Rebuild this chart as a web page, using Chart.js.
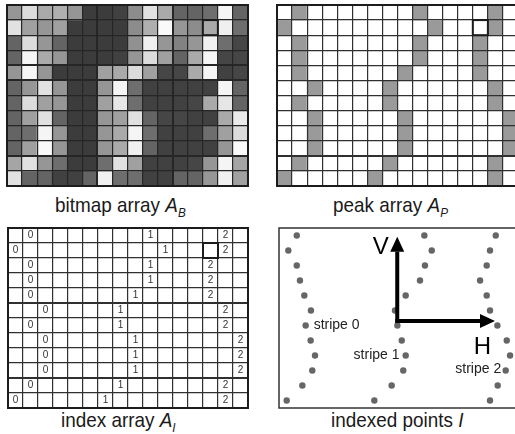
<!DOCTYPE html>
<html lang="en">
<head>
<meta charset="UTF-8">
<title>Stripe indexing</title>
<script src="https://cdn.jsdelivr.net/npm/chart.js"></script>
<style>
    html, body {
        margin: 0;
        padding: 0;
        width: 515px;
        height: 434px;
        overflow: hidden;
        background: #fff;
    }
    body {
        position: relative;
        font-family: "Liberation Sans", Arial, sans-serif;
    }
    canvas {
        position: absolute;
    }
    .caption {
        position: absolute;
        font-size: 21px;
        line-height: 21px;
        white-space: nowrap;
        color: #1a1a1a;
        transform: scaleX(0.9);
        transform-origin: left top;
    }
    .caption sub {
        font-size: 13px;
        font-style: italic;
        vertical-align: -5px;
    }
    #capBitmap { left: 55px; top: 194px; }
    #capPeak { left: 333px; top: 194px; }
    #capIndex { left: 61px; top: 409px; }
    #capPoints { left: 331px; top: 409px; }
</style>
</head>
<body>

<div class="caption" id="capBitmap">bitmap array <i>A</i><sub>B</sub></div>
<div class="caption" id="capPeak">peak array <i>A</i><sub>P</sub></div>
<div class="caption" id="capIndex">index array <i>A</i><sub>I</sub></div>
<div class="caption" id="capPoints">indexed points <i>I</i></div>

<script>
    // grid size
    const COLS = 16;
    const ROWS = 12;
    const colLabels = Array.from({ length: COLS }, (_, i) => String(i));

    // grey level (0-255) of every bitmap cell, one row per line
    const bitmapRow0  = [150, 220, 170, 175, 150,  60,  60,  65, 140, 225, 170, 100, 100, 110, 245, 100];
    const bitmapRow1  = [225, 160, 150, 160,  60,  60,  60,  60, 140, 175, 250, 150, 140, 170, 240, 110];
    const bitmapRow2  = [100, 220, 150, 100,  60,  60,  60,  60, 145, 240, 150, 130, 150, 240, 110,  70];
    const bitmapRow3  = [100, 245, 170, 150,  60,  60,  60,  65, 150, 220, 160, 100, 170, 245,  70,  70];
    const bitmapRow4  = [150, 245, 150,  60,  60,  60, 160, 170, 220, 160,  70,  70, 170, 245,  65,  70];
    const bitmapRow5  = [100, 150, 225, 150,  60,  60, 150, 245, 110,  65,  65,  65,  65,  65, 245, 100];
    const bitmapRow6  = [100, 220, 160, 150,  60,  60, 160, 230, 110,  65,  65,  65,  70, 170, 230, 100];
    const bitmapRow7  = [100, 160, 225, 100,  60,  60, 150, 160, 225, 100,  70,  70,  65,  65, 170, 235];
    const bitmapRow8  = [100, 110, 245, 150,  60,  60, 150, 170, 245, 110,  65,  65,  65, 110, 160, 220];
    const bitmapRow9  = [100, 160, 250, 150,  60,  60, 150, 170, 240, 100,  65,  65,  65,  65, 150, 250];
    const bitmapRow10 = [165, 225, 150, 110,  60,  60, 110, 225, 160,  65,  65,  65,  70, 150, 245, 165];
    const bitmapRow11 = [225, 100, 100,  65,  65, 100, 240, 110, 110,  65,  65, 100, 100, 150, 240, 160];
    const bitmap = [bitmapRow0, bitmapRow1, bitmapRow2, bitmapRow3, bitmapRow4, bitmapRow5,
                    bitmapRow6, bitmapRow7, bitmapRow8, bitmapRow9, bitmapRow10, bitmapRow11];

    // column of the peak cell of each stripe, per row (top to bottom)
    const stripe0Cols = [1, 0, 1, 1, 1, 2, 1, 2, 2, 2, 1, 0];
    const stripe1Cols = [9, 10, 9, 9, 8, 7, 7, 8, 8, 8, 7, 6];
    const stripe2Cols = [14, 14, 13, 13, 13, 14, 14, 15, 15, 15, 14, 14];
    const stripeCols = [stripe0Cols, stripe1Cols, stripe2Cols];

    // refined horizontal position of each indexed point, in cell units
    const stripe0X = [1.18, 0.62, 1.18, 1.39, 1.68, 2.12, 1.77, 2.10, 2.39, 2.21, 1.55, 0.51];
    const stripe1X = [9.65, 10.14, 9.69, 9.36, 8.41, 7.70, 7.86, 8.15, 8.41, 8.25, 7.48, 6.33];
    const stripe2X = [14.39, 14.01, 13.79, 13.35, 13.79, 14.01, 14.50, 15.12, 15.34, 15.05, 14.52, 14.01];
    const stripeX = [stripe0X, stripe1X, stripe2X];
    const stripeLabels = ["stripe 0", "stripe 1", "stripe 2"];

    // layout
    const PAD = 4;
    const boxes = {
        bitmap: { left: 7, top: 5, width: 241, height: 181 },
        peak:   { left: 277, top: 5, width: 241, height: 181 },
        index:  { left: 8, top: 228, width: 240, height: 180 },
        points: { left: 279, top: 228, width: 241, height: 180 }
    };
    const FONT = '"Liberation Sans", Arial, sans-serif';
    const PEAK_GREY = "#9a9a9a";
    const DOT_GREY = "#666666";

    Chart.defaults.animation = false;
    Chart.defaults.plugins.legend.display = false;
    Chart.defaults.plugins.tooltip.enabled = false;

    function makeCanvas(box) {
        const c = document.createElement("canvas");
        c.width = box.width + 2 * PAD;
        c.height = box.height + 2 * PAD;
        c.style.left = (box.left - PAD) + "px";
        c.style.top = (box.top - PAD) + "px";
        document.body.appendChild(c);
        return c;
    }

    // outer frame + the highlighted cell that shows up in the grids
    function framePlugin(width, color, mark) {
        return {
            id: "frame",
            afterDraw(chart) {
                const { ctx, chartArea: a, scales } = chart;
                ctx.save();
                ctx.strokeStyle = color;
                ctx.lineWidth = width;
                ctx.strokeRect(a.left, a.top, a.right - a.left, a.bottom - a.top);
                if (mark) {
                    const x0 = scales.x.getPixelForValue(mark[0] - 0.5);
                    const x1 = scales.x.getPixelForValue(mark[0] + 0.5);
                    const y0 = scales.y.getPixelForValue(mark[1]);
                    const y1 = scales.y.getPixelForValue(mark[1] + 1);
                    ctx.lineWidth = 2;
                    ctx.strokeRect(x0, y0, x1 - x0, y1 - y0);
                }
                ctx.restore();
            }
        };
    }

    function gridScales(lineColor, thickCols, thickRows) {
        return {
            x: {
                type: "category",
                offset: true,
                grid: {
                    offset: true,
                    drawTicks: false,
                    z: 1,
                    color: lineColor,
                    lineWidth: (c) => thickCols.includes(c.index) ? 2 : 1.2
                },
                border: { display: false },
                ticks: { display: false }
            },
            y: {
                type: "linear",
                min: 0,
                max: ROWS,
                reverse: true,
                grid: {
                    drawTicks: false,
                    z: 1,
                    color: lineColor,
                    lineWidth: (c) => thickRows.includes(c.index) ? 2 : 1.2
                },
                border: { display: false },
                ticks: { display: false, stepSize: 1 }
            }
        };
    }

    // one floating-bar dataset per row, each bar is one cell
    function cellDatasets(colorAt) {
        const sets = [];
        for (let r = 0; r < ROWS; r++) {
            sets.push({
                data: colLabels.map(() => [r, r + 1]),
                backgroundColor: colLabels.map((_, c) => colorAt(r, c)),
                borderWidth: 0,
                barPercentage: 1,
                categoryPercentage: 1,
                grouped: false
            });
        }
        return sets;
    }

    function gridChart(box, colorAt, lineColor, thickCols, thickRows, extra) {
        const plugins = [framePlugin(2, "#1c1c1c", [13, 1])];
        if (extra) plugins.push(extra);
        return new Chart(makeCanvas(box), {
            type: "bar",
            data: { labels: colLabels, datasets: cellDatasets(colorAt) },
            options: {
                responsive: false,
                layout: { padding: PAD },
                scales: gridScales(lineColor, thickCols, thickRows)
            },
            plugins: plugins
        });
    }

    const isPeak = (r, c) => stripeCols.some(cols => cols[r] === c);

    // bitmap array A_B
    gridChart(boxes.bitmap, (r, c) => {
        const v = bitmap[r][c];
        return `rgb(${v},${v},${v})`;
    }, "#262626", [6, 11], [2, 7, 8]);

    // peak array A_P
    gridChart(boxes.peak, (r, c) => isPeak(r, c) ? PEAK_GREY : "#ffffff",
        "#303030", [], [2]);

    // index array A_I
    gridChart(boxes.index, () => "#ffffff", "#303030", [], [2, 7], {
        id: "indexDigits",
        afterDatasetsDraw(chart) {
            const { ctx, scales } = chart;
            ctx.save();
            ctx.font = "10px " + FONT;
            ctx.fillStyle = "#333";
            ctx.textAlign = "center";
            ctx.textBaseline = "middle";
            stripeCols.forEach((cols, s) => {
                cols.forEach((c, r) => {
                    ctx.fillText(String(s), scales.x.getPixelForValue(c), scales.y.getPixelForValue(r + 0.5));
                });
            });
            ctx.restore();
        }
    });

    // indexed points I
    const axisOrigin = { x: 7.85, y: 6.2 };
    const vTip = 0.58;
    const hTip = 14.34;

    function arrow(ctx, x0, y0, x1, y1) {
        const ang = Math.atan2(y1 - y0, x1 - x0);
        const len = 15, half = 7;
        const bx = x1 - len * Math.cos(ang), by = y1 - len * Math.sin(ang);
        ctx.beginPath();
        ctx.moveTo(x0, y0);
        ctx.lineTo(bx, by);
        ctx.stroke();
        ctx.beginPath();
        ctx.moveTo(x1, y1);
        ctx.lineTo(bx + half * Math.sin(ang), by - half * Math.cos(ang));
        ctx.lineTo(bx - half * Math.sin(ang), by + half * Math.cos(ang));
        ctx.closePath();
        ctx.fill();
    }

    const pointLabels = {
        id: "pointLabels",
        afterDatasetsDraw(chart) {
            const { ctx, scales: { x, y } } = chart;
            ctx.save();
            ctx.strokeStyle = "#000";
            ctx.fillStyle = "#000";
            ctx.lineWidth = 4;
            const ox = x.getPixelForValue(axisOrigin.x);
            const oy = y.getPixelForValue(axisOrigin.y);
            arrow(ctx, ox, oy + 2, ox, y.getPixelForValue(vTip));
            arrow(ctx, ox - 2, oy, x.getPixelForValue(hTip), oy);

            ctx.font = "24px " + FONT;
            ctx.textAlign = "center";
            ctx.textBaseline = "middle";
            ctx.fillText("V", x.getPixelForValue(6.75), y.getPixelForValue(1.3));
            ctx.fillText("H", x.getPixelForValue(13.5), y.getPixelForValue(7.95));

            ctx.font = "14px " + FONT;
            ctx.fillStyle = "#222";
            ctx.textAlign = "left";
            ctx.fillText(stripeLabels[0], x.getPixelForValue(2.3), y.getPixelForValue(6.45));
            ctx.textAlign = "right";
            ctx.fillText(stripeLabels[1], x.getPixelForValue(8.0), y.getPixelForValue(8.45));
            ctx.fillText(stripeLabels[2], x.getPixelForValue(14.75), y.getPixelForValue(9.4));
            ctx.restore();
        }
    };

    new Chart(makeCanvas(boxes.points), {
        type: "scatter",
        data: {
            datasets: stripeX.map((xs, s) => ({
                label: stripeLabels[s],
                data: xs.map((v, r) => ({ x: v, y: r + 0.5 })),
                pointRadius: 3.2,
                backgroundColor: DOT_GREY,
                borderWidth: 0
            }))
        },
        options: {
            responsive: false,
            layout: { padding: PAD },
            scales: {
                x: { type: "linear", min: 0, max: COLS, display: false },
                y: { type: "linear", min: 0, max: ROWS, reverse: true, display: false }
            }
        },
        plugins: [framePlugin(1.5, "#333", null), pointLabels]
    });
</script>

</body>
</html>
